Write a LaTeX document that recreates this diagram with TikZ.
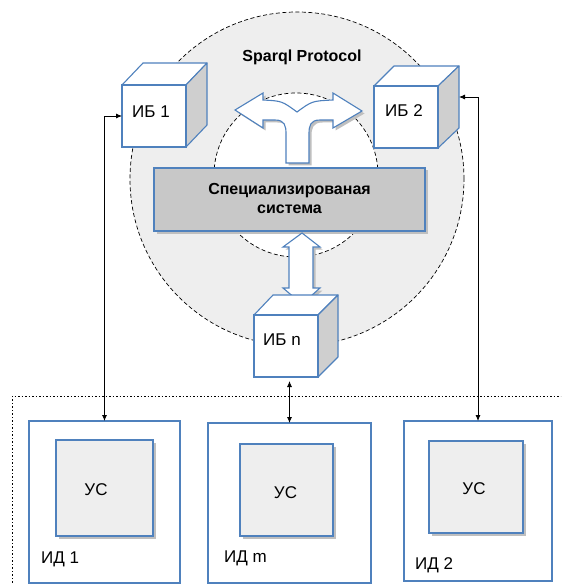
\documentclass[tikz,border=0pt]{standalone}
\usepackage{fontspec}
\setmainfont{Liberation Sans}
\usetikzlibrary{shadows,arrows.meta}
\definecolor{bl}{HTML}{4F81BD}
\definecolor{ringgray}{HTML}{EEEEEE}
\definecolor{sysgray}{HTML}{C8C8C8}
\definecolor{usgray}{HTML}{EEEEEE}
\definecolor{sidegray}{HTML}{CFCFCF}
\begin{document}
\begin{tikzpicture}[x=1pt,y=-1pt,
  ring/.style={draw=black, line width=0.7pt, dash pattern=on 4pt off 2.5pt},
  shad/.style={general shadow={fill=gray!50, shadow xshift=2.5pt, shadow yshift=-2.5pt}},
  sysbox/.style={draw=bl, line width=1.3pt, fill=sysgray, shad, inner sep=0pt, outer sep=0pt},
  idbox/.style={draw=bl, line width=1.1pt, fill=white, inner sep=0pt, outer sep=0pt},
  usbox/.style={draw=bl, line width=1.1pt, fill=usgray, shad, inner sep=0pt, outer sep=0pt},
  front/.style={draw=bl, line width=1.1pt, fill=white, inner sep=0pt, outer sep=0pt, minimum width=64pt, minimum height=62pt},
  face/.style={draw=bl, line width=1.1pt, line join=round},
  fatarrow/.style={draw=bl, line width=1.1pt, fill=white, line join=miter, shad},
  conn/.style={draw=black, line width=0.8pt, {Latex[length=6pt,width=5pt]}-{Latex[length=6pt,width=5pt]}},
  lbl/.style={font=\fontsize{17}{20}\selectfont, inner sep=0pt, anchor=base},
  lblw/.style={font=\fontsize{17}{20}\selectfont, inner sep=0pt, anchor=base west},
  bold/.style={font=\fontsize{16}{19}\selectfont\bfseries, inner sep=0pt, anchor=base}
]
\useasboundingbox (0,0) rectangle (561,585);
\clip (0,0) rectangle (561,585);
\fill[white] (0,0) rectangle (561,585);

% rings
\fill[ringgray] (297,179) circle[radius=167pt];
\draw[ring] (297,179) circle[radius=167pt];
\fill[white] (296,175) circle[radius=82pt];
\draw[ring] (296,175) circle[radius=82pt];

% specialised system
\node[sysbox, minimum width=271pt, minimum height=63pt] (sys) at (289.5,199.5) {};
\node[bold] (systxt1) at (289.5,195) {Специализированая};
\node[bold] (systxt2) at (289.5,213) {система};

% top fork arrow
\path[fatarrow] (235,110) -- (263,93) -- (263,100)
  .. controls (282,101) .. (297,112)
  .. controls (312,101) .. (333,100)
  -- (333,93) -- (362,111) -- (333,128) -- (333,120) -- (320,120)
  .. controls (310,120) and (309,126) .. (309,134)
  -- (309,163) -- (286,163) -- (286,134)
  .. controls (286,126) and (285,120) .. (275,120)
  -- (263,120) -- (263,128) -- cycle;

% bottom double arrow
\path[fatarrow] (302,233) -- (320,247) -- (313,247) -- (313,288) -- (320,288)
  -- (302,304) -- (283,288) -- (289,288) -- (289,247) -- (283,247) -- cycle;

% cube IB1
\path[face, fill=white] (122,85) -- (143,63) -- (207,63) -- (186,85) -- cycle;
\path[face, fill=sidegray] (186,85) -- (207,63) -- (207,125) -- (186,147) -- cycle;
\node[front] (ib1) at (154,116) {};
\node[lbl] (ib1txt) at (151,118) {ИБ 1};

% cube IB2
\path[face, fill=white] (374,86) -- (394,66) -- (459,66) -- (438,86) -- cycle;
\path[face, fill=sidegray] (438,86) -- (459,66) -- (459,128) -- (438,148) -- cycle;
\node[front] (ib2) at (406,117) {};
\coordinate (ib2side) at (459,97);
\node[lbl] (ib2txt) at (404,117) {ИБ 2};

% cube IBn
\path[face, fill=white] (254,315) -- (273,295) -- (338,295) -- (318,315) -- cycle;
\path[face, fill=sidegray] (318,315) -- (338,295) -- (338,357) -- (318,377) -- cycle;
\node[front] (ibn) at (286,346) {};
\node[lbl] (ibntxt) at (282,345) {ИБ n};

% dotted frame
\draw[black, line width=0.7pt, dash pattern=on 1.5pt off 2pt] (12,600) -- (12,396) -- (580,396);

% ID boxes
\node[idbox, minimum width=151pt, minimum height=162pt] (id1) at (104.5,502) {};
\node[idbox, minimum width=163pt, minimum height=160pt] (idm) at (289.5,503) {};
\node[idbox, minimum width=148pt, minimum height=160pt] (id2) at (478,501) {};
\node[usbox, minimum width=97pt, minimum height=96pt] (us1) at (104.5,488) {};
\node[usbox, minimum width=93pt, minimum height=92pt] (usm) at (286.5,490) {};
\node[usbox, minimum width=94pt, minimum height=92pt] (us2) at (476,487) {};
\node[lbl] (us1txt) at (96,495) {УС};
\node[lbl] (usmtxt) at (285.5,498) {УС};
\node[lbl] (us2txt) at (474,494) {УС};
\node[lblw] (id1txt) at (41,563) {ИД 1};
\node[lblw] (idmtxt) at (224,562) {ИД m};
\node[lblw] (id2txt) at (415,569) {ИД 2};

% label
\node[bold] (sparql) at (302,62) {Sparql Protocol};

% connectors
\draw[conn] (ib1.west) -| (id1.north);
\draw[conn] (ib2side) -| (id2.north);
\draw[conn, shorten <=4pt] (idm.north |- ibn.south) -- (idm.north);
\end{tikzpicture}
\end{document}
